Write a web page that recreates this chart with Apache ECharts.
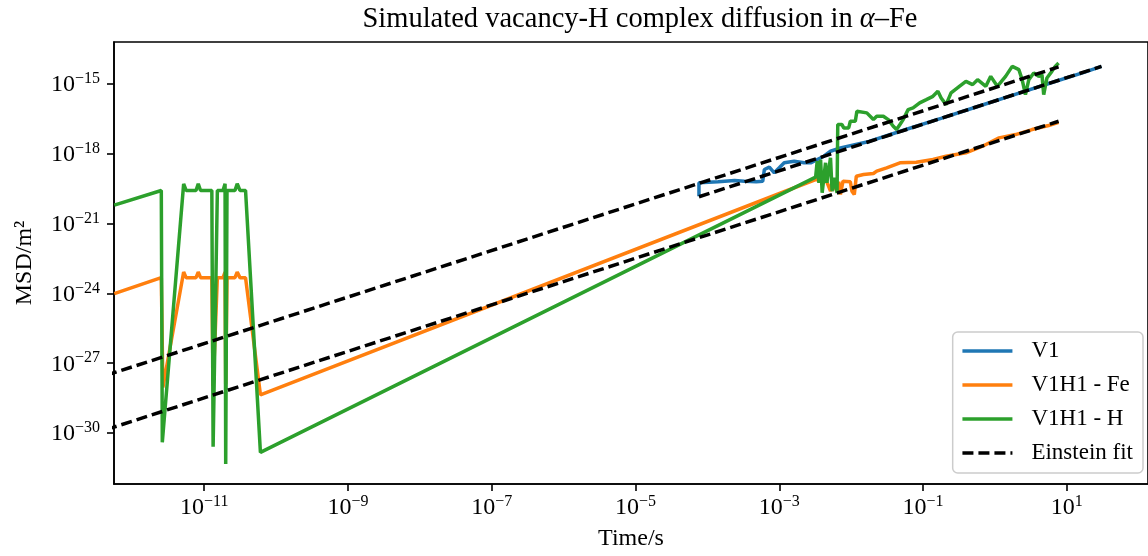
<!DOCTYPE html>
<html>
<head>
<meta charset="utf-8">
<script src="https://cdn.jsdelivr.net/npm/echarts@6/dist/echarts.min.js"></script>
<style>
  html, body { margin: 0; padding: 0; background: #fff; }
  #main { width: 1148px; height: 556px; }
</style>
</head>
<body>
<div id="main"></div>
<script>
// values are log10 of time (s) and log10 of MSD (m^2)
var xTicks = [-11, -9, -7, -5, -3, -1, 1];
var yTicks = [-30, -27, -24, -21, -18, -15];

// V1
var v1LogTime = [-4.117, -4.117, -3.851, -3.621, -3.483, -3.322, -3.230, -3.207, -3.138, -3.069, -3.000,
  -2.931, -2.793, -2.655, -2.563, -2.379, -2.287, -2.149, -1.75, -1.25, -0.75, -0.25, 0.25, 0.75, 1.25, 1.483];
var v1LogMsd = [-19.822, -19.247, -19.204, -19.148, -19.178, -19.204, -19.178, -18.677, -18.578, -18.818, -18.604,
  -18.389, -18.320, -18.389, -18.389, -18.106, -17.891, -17.746, -17.47, -16.97, -16.48, -15.98, -15.48, -14.98, -14.49, -14.245];

// V1H1 - Fe
var feLogTime = [-12.251, -11.597, -11.575, -11.286, -11.252, -11.114, -11.083, -11.051, -10.894, -10.876,
  -10.817, -10.738, -10.710, -10.701, -10.683, -10.572, -10.541, -10.503, -10.425, -10.218,
  -2.494, -2.338, -2.287, -2.265, -2.196, -2.172, -2.149, -2.113, -2.011, -1.989, -1.956, -1.928, -1.828,
  -1.690, -1.644, -1.506, -1.321, -1.093, -0.862, -0.679, -0.403, -0.172, 0.058, 0.287, 0.517, 0.748, 0.886];
var feLogMsd = [-24.009, -23.323, -28.042, -23.082, -23.323, -23.323, -23.082, -23.323, -23.323, -27.973,
  -23.323, -23.323, -23.082, -27.90, -23.323, -23.323, -23.082, -23.323, -23.323, -28.359,
  -19.106, -19.204, -19.607, -19.204, -19.607, -19.204, -19.749, -19.178, -19.204, -19.607, -19.749, -18.964, -18.891,
  -18.848, -18.749, -18.604, -18.389, -18.363, -18.248, -18.106, -17.960, -17.677, -17.317, -17.175, -16.961, -16.789, -16.647];

// V1H1 - H
var hLogTime = [-12.251, -11.597, -11.583, -11.286, -11.252, -11.114, -11.083, -11.051, -10.894, -10.876,
  -10.817, -10.738, -10.710, -10.701, -10.683, -10.572, -10.541, -10.503, -10.425, -10.218,
  -2.494, -2.472, -2.448, -2.425, -2.403, -2.356, -2.338, -2.287, -2.265, -2.241, -2.196, -2.186, -2.127,
  -2.103, -2.034, -2.011, -1.942, -1.920, -1.782, -1.759, -1.690, -1.644, -1.552, -1.483, -1.414, -1.368,
  -1.321, -1.276, -1.207, -1.138, -1.046, -0.954, -0.862, -0.793, -0.748, -0.679, -0.610, -0.494, -0.403,
  -0.310, -0.241, -0.126, -0.058, 0.034, 0.149, 0.241, 0.334, 0.379, 0.425, 0.472, 0.541, 0.610, 0.655,
  0.679, 0.724, 0.793, 0.839, 0.886];
var hLogMsd = [-20.208, -19.577, -30.401, -19.290, -19.577, -19.577, -19.290, -19.577, -19.577, -30.590,
  -19.577, -19.577, -19.290, -31.332, -19.577, -19.577, -19.290, -19.577, -19.577, -30.830,
  -19.007, -18.320, -19.247, -18.248, -19.676, -18.389, -19.247, -18.175, -19.607, -19.030, -19.676, -16.746, -16.746,
  -16.888, -16.888, -16.604, -16.604, -16.175, -16.244, -16.317, -16.532, -16.390, -16.390, -16.532, -16.819, -16.961,
  -16.746, -16.532, -16.103, -16.030, -15.815, -15.674, -15.532, -15.317, -15.601, -15.888, -15.386, -15.103, -14.888,
  -15.030, -14.816, -15.103, -14.674, -15.103, -14.674, -14.245, -14.387, -14.816, -15.459, -14.816, -14.528, -14.674, -14.601,
  -15.459, -14.743, -14.459, -14.245, -14.099];

// Einstein fits (straight lines in log-log), end points
var fitV1LogTime = [-4.117, 1.483];
var fitV1LogMsd = [-19.847, -14.247];
var fitFeLogTime = [-13.0, 0.886];
var fitFeLogMsd = [-30.49, -16.604];
var fitHLogTime = [-13.0, 0.886];
var fitHLogMsd = [-28.156, -14.27];

function pairs(xs, ys) {
  return xs.map(function (x, i) { return [x, ys[i]]; });
}
function pow10(v) {
  var e = v < 0 ? '\u2212' + (-v) : '' + v;
  return '{b|10}{s|' + e + '}';
}

var FONT = 'Liberation Serif';
var tickRich = {
  b: { fontFamily: FONT, fontSize: 24, lineHeight: 26, verticalAlign: 'bottom', color: '#000' },
  s: { fontFamily: FONT, fontSize: 16, lineHeight: 26, verticalAlign: 'top', color: '#000' }
};

function dataLine(name, color, xs, ys) {
  return {
    name: name, type: 'line', data: pairs(xs, ys), showSymbol: false, symbol: 'none',
    lineStyle: { color: color, width: 3.5 }, itemStyle: { color: color },
    animation: false, clip: true
  };
}
function fitLine(xs, ys) {
  return {
    name: 'Einstein fit', type: 'line', data: pairs(xs, ys), showSymbol: false, symbol: 'none',
    lineStyle: { color: '#000', width: 3.5, type: [11, 5] }, itemStyle: { color: '#000' },
    animation: false, clip: true
  };
}

var chart = echarts.init(document.getElementById('main'));
chart.setOption({
  backgroundColor: '#fff',
  animation: false,
  title: {
    text: 'Simulated vacancy-H complex diffusion in {i|\u03b1}\u2013Fe',
    left: 635, top: 0, textAlign: 'center',
    textStyle: {
      fontFamily: FONT, fontSize: 28.5, fontWeight: 'normal', color: '#000',
      rich: { i: { fontFamily: FONT, fontSize: 28.5, fontStyle: 'italic', color: '#000' } }
    }
  },
  grid: {
    left: 114, top: 42, right: -9, bottom: 71,
    show: true, borderColor: '#000', borderWidth: 1.6, backgroundColor: 'transparent'
  },
  legend: {
    orient: 'vertical', right: 5, bottom: 83,
    data: ['V1', 'V1H1 - Fe', 'V1H1 - H', 'Einstein fit'],
    itemWidth: 50, itemHeight: 14, itemGap: 10,
    padding: [7, 10, 8, 8],
    itemStyle: { opacity: 0 },
    lineStyle: { width: 3.5 },
    backgroundColor: 'rgba(255,255,255,0.8)',
    borderColor: '#cccccc', borderWidth: 1.5, borderRadius: 5,
    textStyle: { fontFamily: FONT, fontSize: 23, color: '#000', lineHeight: 24, padding: [0, 0, 0, 14] }
  },
  xAxis: {
    type: 'value', min: -12.255, max: 2.13,
    name: 'Time/s', nameLocation: 'middle', nameGap: 43,
    nameTextStyle: { fontFamily: FONT, fontSize: 24, color: '#000' },
    axisLine: { show: true, onZero: false, lineStyle: { color: '#000', width: 1.6 } },
    axisTick: { show: true, inside: false, length: 7, lineStyle: { color: '#000', width: 1.6 }, customValues: xTicks },
    axisLabel: { margin: 10, customValues: xTicks, formatter: pow10, rich: tickRich },
    splitLine: { show: false }
  },
  yAxis: {
    type: 'value', min: -32.19, max: -13.198,
    name: 'MSD/m\u00b2', nameLocation: 'middle', nameGap: 77, nameRotate: 90,
    nameTextStyle: { fontFamily: FONT, fontSize: 24, color: '#000' },
    axisLine: { show: true, onZero: false, lineStyle: { color: '#000', width: 1.6 } },
    axisTick: { show: true, inside: false, length: 7, lineStyle: { color: '#000', width: 1.6 }, customValues: yTicks },
    axisLabel: { margin: 14, customValues: yTicks, formatter: pow10, rich: tickRich },
    splitLine: { show: false }
  },
  series: [
    dataLine('V1', '#1f77b4', v1LogTime, v1LogMsd),
    dataLine('V1H1 - Fe', '#ff7f0e', feLogTime, feLogMsd),
    dataLine('V1H1 - H', '#2ca02c', hLogTime, hLogMsd),
    fitLine(fitV1LogTime, fitV1LogMsd),
    fitLine(fitFeLogTime, fitFeLogMsd),
    fitLine(fitHLogTime, fitHLogMsd)
  ]
});
</script>
</body>
</html>
